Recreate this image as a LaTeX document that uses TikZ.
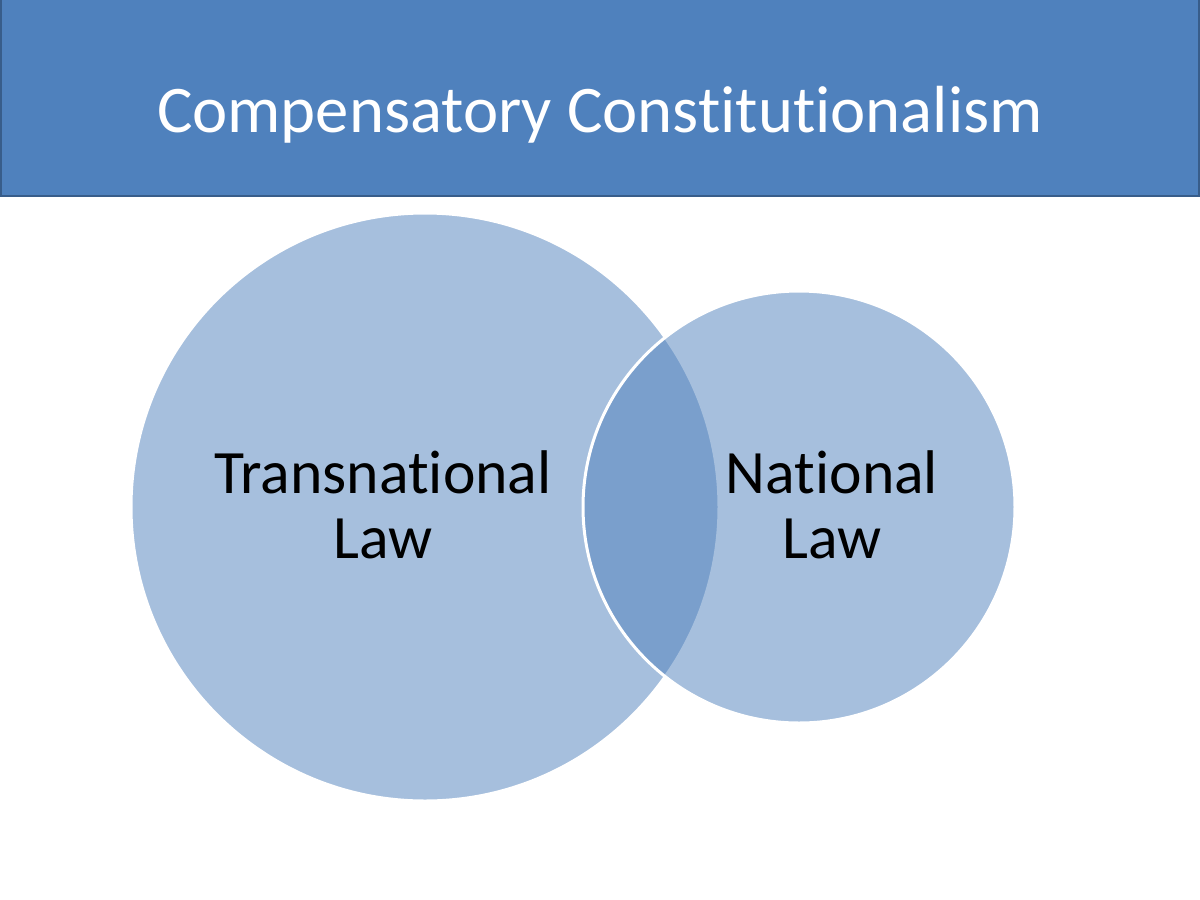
\documentclass[tikz,border=0pt]{standalone}
\usepackage{fontspec}
\setmainfont{Carlito}[Ligatures=NoCommon]
\usepackage{tikz}
\definecolor{Accent}{HTML}{4F81BD}
\definecolor{AccentDark}{HTML}{385D8A}

\begin{document}
\begin{tikzpicture}[x=0.6pt,y=-0.6pt,
    setcircle/.style={fill=Accent,fill opacity=.5,draw=white,line width=1.8pt},
    label/.style={align=center,font=\fontsize{37}{39}\selectfont}]
        \useasboundingbox (0,0) rectangle (1200,900);
        \fill[white] (0,0) rectangle (1200,900);
        \draw[fill=Accent,draw=AccentDark,line width=1.5pt] (1,-4) rectangle (1199,196);
        \node[white,font=\fontsize{40}{48}\selectfont] (title) at (600,115) {Compensatory Constitutionalism};
        \path[setcircle] (425,507) circle (294);
        \path[setcircle] (799,507) circle (216);
        \node[label] (trans) at (383,505) {Transnational\\Law};
        \node[label] (nat) at (832,505) {National\\Law};
      \end{tikzpicture}
\end{document}
